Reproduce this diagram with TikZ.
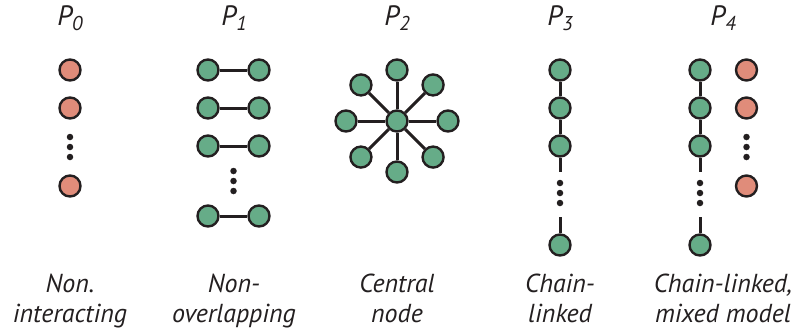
\documentclass[tikz,border=0pt]{standalone}
\usepackage{fontspec}
\setmainfont{PT Sans}
\usetikzlibrary{calc}
\definecolor{outline}{HTML}{231F20}
\definecolor{gfill}{HTML}{66AC88}
\definecolor{ofill}{HTML}{E08C7A}
\newcommand{\captionfont}{\itshape\fontsize{26}{30}\selectfont}
\newcommand{\titlefont}{\itshape\fontsize{28}{30}\selectfont}
\newcommand{\Psub}[1]{P{\fontsize{20}{20}\selectfont\raisebox{-5pt}{#1}}}
\begin{document}
\begin{tikzpicture}[x=1pt,y=-1pt,
  gnode/.style={circle, draw=outline, fill=gfill, line width=2.4pt, minimum size=21pt, inner sep=0pt},
  onode/.style={gnode, fill=ofill},
  link/.style={draw=outline, line width=3pt},
  vdot/.style={circle, fill=outline, minimum size=6.5pt, inner sep=0pt},
  title/.style={font=\titlefont, text=outline, anchor=base},
  caption/.style={font=\captionfont, text=outline, anchor=base}]
\path[use as bounding box] (0,0) rectangle (794,333);

% column titles
\node[title] (t0) at (70,25)  {\Psub{0}};
\node[title] (t1) at (234,25) {\Psub{1}};
\node[title] (t2) at (397,25) {\Psub{2}};
\node[title] (t3) at (560,25) {\Psub{3}};
\node[title] (t4) at (723,25) {\Psub{4}};

% P0: independent nodes
\node[onode] (a1) at (70,70) {};
\node[onode] (a2) at (70,108) {};
\node[vdot] (ad1) at (70,137) {};
\node[vdot] (ad2) at (70,147) {};
\node[vdot] (ad3) at (70,157) {};
\node[onode] (a3) at (70,186) {};

% P1: disjoint pairs
\foreach \i/\y in {1/70,2/108,3/146,4/216}{
  \node[gnode] (bl\i) at (208,\y) {};
  \node[gnode] (br\i) at (259,\y) {};
  \draw[link] (bl\i) -- (br\i);
}
\node[vdot] (bd1) at (233.5,171) {};
\node[vdot] (bd2) at (233.5,181) {};
\node[vdot] (bd3) at (233.5,191) {};

% P2: star around a central node
\node[gnode] (hub) at (397,121) {};
\foreach \k in {0,...,7}{
  \node[gnode] (s\k) at ($(397,121)+(\k*45:51)$) {};
  \draw[link] (hub) -- (s\k);
}

% P3: chain
\node[gnode] (c1) at (560,70) {};
\node[gnode] (c2) at (560,108) {};
\node[gnode] (c3) at (560,146) {};
\coordinate (c3e) at (560,172);
\node[vdot] (cd1) at (560,183) {};
\node[vdot] (cd2) at (560,193) {};
\node[vdot] (cd3) at (560,203) {};
\coordinate (c4s) at (560,217);
\node[gnode] (c4) at (560,245) {};
\draw[link] (c1) -- (c2);
\draw[link] (c2) -- (c3);
\draw[link] (c3) -- (c3e);
\draw[link] (c4s) -- (c4);

% P4: chain next to independent nodes
\node[gnode] (d1) at (700,70) {};
\node[gnode] (d2) at (700,108) {};
\node[gnode] (d3) at (700,146) {};
\coordinate (d3e) at (700,172);
\node[vdot] (dd1) at (700,183) {};
\node[vdot] (dd2) at (700,193) {};
\node[vdot] (dd3) at (700,203) {};
\coordinate (d4s) at (700,217);
\node[gnode] (d4) at (700,245) {};
\draw[link] (d1) -- (d2);
\draw[link] (d2) -- (d3);
\draw[link] (d3) -- (d3e);
\draw[link] (d4s) -- (d4);
\node[onode] (e1) at (746.5,70) {};
\node[onode] (e2) at (746.5,108) {};
\node[vdot] (ed1) at (746.5,137) {};
\node[vdot] (ed2) at (746.5,147) {};
\node[vdot] (ed3) at (746.5,157) {};
\node[onode] (e3) at (746.5,186) {};

% captions
\node[caption] (l0a) at (70,292)  {Non.};
\node[caption] (l0b) at (70,322)  {interacting};
\node[caption] (l1a) at (234,292) {Non-};
\node[caption] (l1b) at (234,322) {overlapping};
\node[caption] (l2a) at (397,292) {Central};
\node[caption] (l2b) at (397,322) {node};
\node[caption] (l3a) at (560,292) {Chain-};
\node[caption] (l3b) at (560,322) {linked};
\node[caption] (l4a) at (723,292) {Chain-linked,};
\node[caption] (l4b) at (723,322) {mixed model};
\end{tikzpicture}
\end{document}
